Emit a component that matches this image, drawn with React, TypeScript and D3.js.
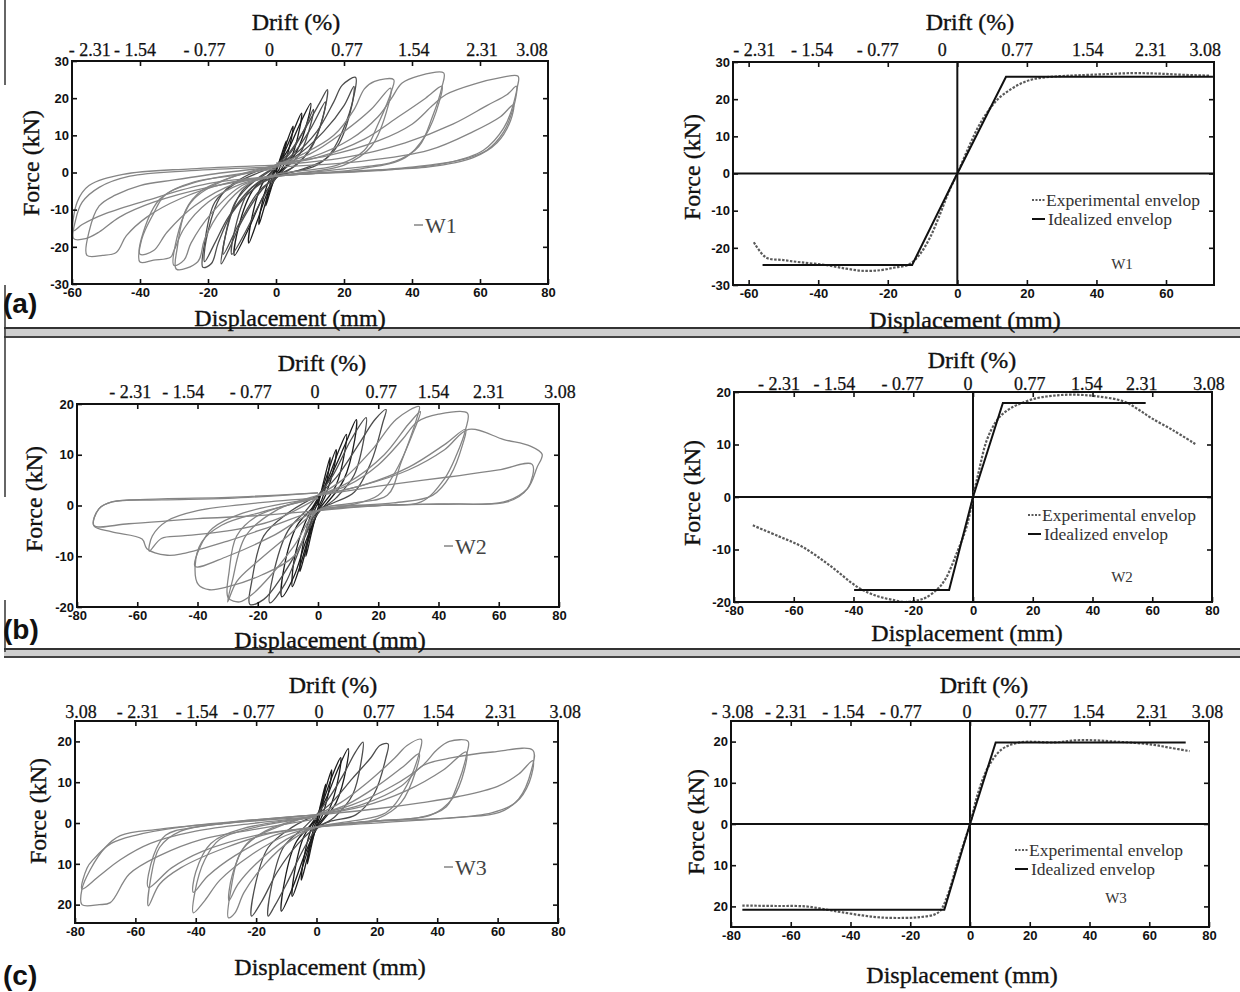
import React, { useEffect, useRef } from 'react';
import * as d3 from 'd3';

type Pt = [number, number];

// ---------- hysteresis loops: [displacement mm, force kN], one array per cycle ----------
const w1Cycles: Pt[][] = [
  [[0,0],[1.5,4.5],[3,8.5],[2.6,6],[1,1],[0,-0.5],[-1.5,-4.5],[-3,-9],[-2.6,-6.5],[-1,-1],[0,0.5]],
  [[0,0.5],[2.5,6.5],[5,12.5],[4.5,9],[2,1.5],[0,-1],[-2.5,-6.5],[-5,-14],[-4.5,-10],[-2,-2],[0,1]],
  [[0,1],[3,6.5],[5.5,12],[7.5,16],[7,12],[4,3],[0,-1],[-3,-6.5],[-5.5,-13],[-8,-19],[-7.5,-14],[-4,-3],[0,1]],
  [[0,1.5],[3.5,6],[7,13],[10.2,18.6],[9.6,15],[6,5.5],[2,0.5],[0,-1.5],[-3.5,-6],[-8,-15],[-12.2,-22.3],[-11.6,-17],[-7,-5],[-2,-0.5],[0,1.5]],
  [[0,1.5],[4,5],[8,11],[11,17],[10.5,14],[7,5],[2,0.5],[0,-1.5],[-4,-7],[-9,-16],[-13,-22],[-12.5,-17],[-8,-5],[-2,-0.5],[0,1.5]],
  [[0,2],[4,5.5],[9,12.5],[13,19],[15.1,22.3],[14.6,18],[11,8],[6,2],[0,-1],[-4,-4.5],[-10,-13],[-14,-21],[-16.1,-24.6],[-15.5,-20],[-12,-8],[-6,-2],[0,1.5]],
  [[0,1.5],[5,5],[10,11.5],[14.5,19],[14,15.5],[10,6],[5,1.5],[0,-1.5],[-5,-5],[-11,-14],[-15.5,-22],[-15,-17.5],[-10,-5],[-4,-1],[0,1.5]],
  [[0,2],[5,4.5],[12,11],[17,19],[19.5,23.5],[23.4,25.6],[23,21],[19.5,11],[15,4],[8,1],[0,-1],[-6,-4],[-13,-11],[-17,-19],[-19,-24.5],[-21.5,-25.5],[-21,-19],[-18,-8],[-12,-3],[-5,0],[0,2]],
  [[0,2],[6,4.5],[14,11],[20,18],[22.9,23.2],[22.3,18],[18,7],[12,2],[0,-1],[-7,-4],[-14,-12],[-18,-19],[-21,-24],[-20.5,-18],[-16,-6],[-9,-1],[0,2]],
  [[0,2],[8,5],[17,10],[23,17],[26,22.5],[29,24.5],[34.6,25],[34,22],[30,13],[26,6],[18,2],[0,-0.5],[-8,-3],[-16,-10],[-21,-18],[-23,-24],[-29.3,-26],[-29,-20],[-26.5,-10],[-22,-5],[-12,-1],[0,1.5]],
  [[0,2],[10,5],[20,11],[28,17],[33.7,22.7],[33,18],[28,7],[20,2],[0,-1],[-10,-3.5],[-19,-11],[-25,-19],[-27,-23.5],[-30,-25],[-29.5,-19],[-25,-8],[-15,-2],[0,2]],
  [[0,2],[10,4],[22,9],[30,15],[34,20],[37,24],[42,26],[49.3,26.8],[48.8,23],[46,15],[42,7],[35,3],[20,1],[0,-1],[-10,-3],[-20,-8],[-27,-15],[-30,-21],[-31,-22.8],[-36,-23.6],[-40,-24.1],[-39.5,-18],[-36,-11],[-32.7,-6.1],[-24,-2.5],[-10,-0.5],[0,1.5]],
  [[0,2],[12,4],[26,9],[36,15],[44,20],[48.8,23.2],[48,19],[44,10],[38,4],[25,1],[0,-1],[-12,-3],[-24,-9],[-32,-16],[-36,-21],[-40,-22],[-39,-16],[-34,-7],[-25,-3],[0,1]],
  [[0,2.5],[15,4.5],[30,8.5],[40,13],[46,18],[50,21],[59,24],[65,25.3],[71.2,25.9],[71,23],[70,18],[67,11],[62,6],[55,3.5],[45,2],[30,0.7],[0,-1],[-15,-3],[-28,-7],[-38,-12],[-44,-17],[-47,-21.5],[-51,-22.3],[-55.6,-22.3],[-55,-16],[-52,-9],[-47.3,-6.1],[-40,-3.5],[-30,-2],[-15,0],[0,1.5]],
  [[0,2],[20,4],[38,8],[52,13],[62,18],[68,21],[70.7,23.2],[70,19],[67,12],[61,6],[50,2.5],[30,0.5],[0,-1],[-20,-4],[-36,-8],[-46,-12],[-52,-16],[-56,-17.8],[-59.5,-17.8],[-59,-13],[-57,-8],[-52,-4],[-43,-1],[-25,0.5],[0,1.5]],
  [[0,1.5],[25,3],[45,6],[58,11],[66,15],[69.8,18.2],[69,14],[65,8],[58,4],[45,1.5],[25,0.5],[0,-1],[-20,-3],[-38,-7.5],[-50,-11],[-57,-14],[-59.5,-15.6],[-58.5,-8],[-55,-3.5],[-45,-0.5],[-25,1],[0,2]],
];

const w2Cycles: Pt[][] = [
  [[0,0],[2,5],[4,9.5],[3.6,7],[1.5,1.5],[0,-0.5],[-2,-5],[-4,-10],[-3.6,-7.5],[-1.5,-1.5],[0,0.5]],
  [[0,0.5],[3,6],[6,11],[5.5,8],[2.5,2],[0,-1],[-3,-6.5],[-6,-13],[-5.5,-9.5],[-2.5,-2],[0,1]],
  [[0,1],[3.5,5.5],[7,11],[9.4,14],[9,11],[6,4],[2,0.5],[0,-1],[-3,-6],[-6,-12],[-8.5,-16],[-8,-11],[-4,-3],[0,1]],
  [[0,1.5],[4,5.5],[9,12],[12.7,16.9],[12.2,13],[8.5,5],[3,0.5],[0,-1.5],[-4,-7],[-8,-14],[-12,-18],[-11.5,-13],[-7,-4],[-2,-0.5],[0,1.5]],
  [[0,2],[5,6],[11,13],[16,17.3],[15.5,14],[12,6],[6,1.5],[0,-1.5],[-5,-7],[-11,-15.5],[-16,-19.2],[-15,-14],[-10,-5],[-4,-1],[0,2]],
  [[0,2],[6,5.5],[14,12.5],[19,17],[22.6,18.9],[21.5,16.3],[17.6,8.5],[12,2.6],[5,0.5],[0,-1],[-6,-8],[-12,-14],[-18,-18.5],[-22.6,-19.5],[-22,-15],[-18,-6],[-10,-1.5],[0,2]],
  [[0,2],[8,5],[18,11],[26,17],[33.6,19.5],[33,17.6],[27.6,8.5],[23,2],[12,0.5],[0,-1],[-8,-8],[-16,-14],[-22,-17.6],[-26,-19],[-29.8,-18.2],[-29.5,-13],[-27,-6],[-20,-2],[0,1.5]],
  [[0,2],[10,4.5],[22,10],[30,16],[34,18.5],[32,15],[26,7],[20,2],[10,0],[0,-1],[-10,-6],[-20,-11],[-27,-15],[-30,-19],[-28.5,-15],[-24,-6],[-14,-1],[0,2]],
  [[0,2],[10,4],[20,8],[28,13],[33,16.5],[40,18],[49.6,18.2],[49,15],[46,10],[41.9,5.2],[34.2,0.7],[20,0],[0,-1],[-7.7,-9.8],[-18.7,-13.7],[-29.8,-16],[-36,-16.6],[-39.7,-15.6],[-40.8,-12],[-38.6,-7.2],[-32,-3.9],[-18.7,-1.3],[0,1.5]],
  [[0,2],[15,4],[30,7.5],[42,12],[49,15],[48,12],[44,6],[38,2],[25,0.5],[0,-1],[-15,-6],[-30,-10],[-40.8,-12],[-39,-8],[-35,-4.5],[-25,-1.5],[0,1.5]],
  [[0,2],[15,4],[30,7],[42,11],[50,15],[61.7,13],[70.5,11.7],[74.4,10.1],[72.7,7.5],[69.5,3.3],[61.7,0.7],[40,0.3],[20,0],[0,-1],[-15,-4],[-30,-7],[-45,-9.5],[-50,-9.8],[-56.8,-8.5],[-58.4,-6.6],[-68.4,-5.2],[-74.4,-4],[-72.8,-0.7],[-68.4,0.7],[-51.8,1.3],[-29.8,1.6],[0,2.5]],
  [[0,2],[20,3.8],[35,5],[47,5.9],[60,7],[71.1,8.1],[69.5,3.3],[62.8,0.7],[45,0.3],[20,0],[0,-1],[-20,-2],[-40,-2.6],[-62.8,-3.6],[-74.4,-3.9],[-72.8,-0.7],[-68.4,0.7],[-51.8,1.1],[-29.8,1.4],[0,2.5]],
  [[0,1.5],[-15,-3],[-30,-5],[-45,-6],[-52,-6.5],[-56,-9],[-55,-6],[-50,-3],[-40,-1],[-20,0.5],[0,1.5]],
];

const w3Cycles: Pt[][] = [
  [[0,0],[1.5,5],[3,9.5],[2.6,7],[1,1.5],[0,-0.5],[-1.5,-5],[-3,-10],[-2.6,-7],[-1,-1.5],[0,0.5]],
  [[0,0.5],[2.5,7],[5,13],[4.5,9.5],[2,2],[0,-1],[-2.5,-7],[-5,-14],[-4.5,-10],[-2,-2],[0,1]],
  [[0,1],[3,7],[6,13],[8,16],[7.5,12],[4,3],[0,-1],[-3,-7],[-6,-14],[-8,-18],[-7.5,-13],[-4,-3],[0,1]],
  [[0,1.5],[3.5,6.5],[7,13],[10.5,18.2],[10,14],[6.5,5],[2,0.5],[0,-1.5],[-3.5,-7],[-8,-16],[-11.6,-21.6],[-11,-16],[-7,-5],[-2,-0.5],[0,1.5]],
  [[0,2],[4,6],[9,12],[13,17.5],[15.4,19.8],[15,16],[12,7],[6,1.5],[0,-1.5],[-4,-6],[-10,-15],[-14,-20.5],[-16,-22.8],[-15.3,-17],[-11,-6],[-4,-1],[0,2]],
  [[0,2],[5,5],[12,11],[18,16],[21,19],[23.7,19.4],[23,16],[19,7],[13,2],[5,0.5],[0,-1],[-6,-5],[-13,-12],[-18,-19],[-21.5,-22.8],[-20.8,-17],[-16,-6],[-8,-1],[0,2]],
  [[0,2],[8,5],[17,10],[26,16],[30,19],[34.7,20.5],[34,17],[29,8],[23,2.5],[12,0.5],[0,-1],[-8,-4],[-17,-10],[-24,-17],[-27,-22],[-29.2,-23.2],[-28.5,-17],[-25,-7],[-17,-2],[0,2]],
  [[0,2],[10,4.5],[20,9],[29,14],[34,17],[33,13],[28,5],[20,1],[0,-1],[-10,-4],[-20,-10],[-26,-15],[-29,-19],[-28,-13],[-23,-5],[-13,-1],[0,2]],
  [[0,2],[12,4.5],[25,9],[35,14],[40,18],[44,20],[50.2,20],[49.8,17],[47,10],[43,4],[35,1.5],[20,0.5],[0,-1],[-10,-3],[-22,-8],[-32,-14],[-37,-19],[-40.8,-22],[-40.3,-17],[-37,-9],[-32,-4],[-20,-1],[0,1.5]],
  [[0,2],[15,4],[30,8],[42,13],[49.6,17.4],[49,13],[45,6],[38,2],[20,0.5],[0,-1],[-14,-3],[-27,-8],[-36,-13],[-40.8,-17],[-40,-12],[-35,-5],[-25,-1.5],[0,1.5]],
  [[0,2],[15,4.5],[28,9],[35.3,14.1],[45,16],[58.4,17.4],[71.7,17.8],[71.2,13],[67,5.9],[60.6,2.6],[47.4,1.4],[14.3,0.2],[0,-1],[-15,-2.5],[-30,-6],[-45,-11],[-52,-15],[-55.7,-20.3],[-55,-14],[-52,-6],[-45,-2],[-30,0],[0,2]],
  [[0,2],[20,3.5],[35,5],[47,6.5],[60,9],[67,12],[71.7,15.3],[70.5,10],[66,5],[58,2.5],[40,1],[0,-1],[-20,-3],[-38,-7],[-48,-11],[-55.7,-15.8],[-54,-8],[-50,-3],[-40,-1],[0,1.5]],
  [[0,1],[-20,-1.5],[-38,-4],[-52,-8],[-62,-12.5],[-68.3,-19.5],[-72,-20],[-77.7,-20],[-77.7,-16.2],[-75,-11.5],[-70,-6],[-65,-3.1],[-51.8,-1.5],[-30,0],[0,2]],
  [[0,1.5],[-20,0],[-40,-2],[-55,-5],[-65,-9],[-72,-13],[-77.7,-16.2],[-76,-11],[-73.9,-8.9],[-68,-5],[-60,-3],[-45,-1],[0,2]],
];

// ---------- envelopes ----------
const w1Experimental: Pt[] = [[-58.5,-18.5],[-55,-22.6],[-50,-23.3],[-45,-23.9],[-38,-24.6],[-32,-25.6],[-27,-26.2],[-22,-26],[-18,-25.3],[-14,-24.5],[-11,-22],[-8,-17.5],[-5,-11],[-2.5,-5],[0,0],[3,6.5],[6,12.5],[9,17],[12,20.3],[15.6,22.8],[19,24.5],[22.4,25.5],[28,26.1],[34,26.4],[42,26.7],[50,27],[57,26.9],[64,26.6],[72.8,26.3]];
const w1Idealized: Pt[] = [[-56,-24.6],[-13,-24.6],[0,0],[14,26],[73.5,26]];

const w2Experimental: Pt[] = [[-73.7,-5.4],[-65,-7.5],[-57.1,-9.5],[-47.8,-13.1],[-38.5,-17.2],[-31.9,-18.9],[-26,-19.7],[-22.6,-20],[-18,-19.6],[-15.9,-19.2],[-12,-17.6],[-9.3,-15.7],[-5.3,-10.5],[-2,-5.4],[0,0],[2,5],[4.6,10.8],[8,14.6],[11,16.3],[14.6,17.5],[21.2,18.8],[27,19.3],[33.2,19.5],[41.2,19.2],[50.5,18.2],[55,16.8],[59.8,15],[67,12.7],[74.4,10.1]];
const w2Idealized: Pt[] = [[-39.8,-17.7],[-8,-17.7],[0,0],[10,17.9],[57.8,17.9]];

const w3Experimental: Pt[] = [[-76.2,-19.8],[-65,-19.9],[-55,-20],[-48,-20.8],[-43,-21.4],[-36,-22.2],[-29.8,-22.7],[-22,-22.8],[-16.6,-22.6],[-12,-22],[-9.9,-21],[-7.3,-16.9],[-4,-8.9],[0,0],[2.6,7.3],[6,13.7],[10.6,18.1],[16.6,19.8],[28.5,19.8],[35.1,20.3],[42,20.3],[48.3,20],[55,19.7],[61.6,19.2],[67,18.5],[73.5,17.7]];
const w3Idealized: Pt[] = [[-76.2,-20.8],[-8.6,-20.8],[0,0],[8.6,19.8],[72.2,19.8]];

// ---------- ticks ----------
const xTicks60to80 = [-60, -40, -20, 0, 20, 40, 60, 80];
const xTicks60to60 = [-60, -40, -20, 0, 20, 40, 60];
const xTicks80 = [-80, -60, -40, -20, 0, 20, 40, 60, 80];
const yTicks30 = [-30, -20, -10, 0, 10, 20, 30];
const yTicks20 = [-20, -10, 0, 10, 20];

const driftLabels = ['- 2.31', '- 1.54', '- 0.77', '0', '0.77', '1.54', '2.31', '3.08'];
const driftLabelsW3Left = ['3.08', '- 2.31', '- 1.54', '- 0.77', '0', '0.77', '1.54', '2.31', '3.08'];
const driftLabelsW3Right = ['- 3.08', '- 2.31', '- 1.54', '- 0.77', '0', '0.77', '1.54', '2.31', '3.08'];
// where each drift label sits, in mm on the displacement axis
const driftAtW1Left = [-54.8, -41.5, -21, -1.9, 20.9, 40.5, 60.6, 75.3];
const driftAtW1Right = [-58.4, -41.8, -22.9, -4.3, 17.2, 37.5, 55.6, 71.3];
const driftAtW2Left = [-62.3, -44.7, -22.3, -1, 21, 38.3, 56.7, 80.3];
const driftAtW2Right = [-64.9, -46.4, -23.6, -1.7, 19, 38.1, 56.5, 79];
const driftAtW3Left = [-78, -59.2, -39.7, -20.8, 0.8, 20.7, 40.3, 61, 82.4];
const driftAtW3Right = [-79.5, -61.6, -42.4, -23.2, -1, 20.5, 39.7, 60.9, 79.5];

const SERIF = '"Liberation Serif", "Times New Roman", serif';
const SANS = '"Liberation Sans", Arial, sans-serif';

const panels = [
  { kind: 'loops', name: 'W1', cycles: w1Cycles, x0: 72, x1: 548, y0: 61, y1: 284, xDomain: [-60, 80], yDomain: [-30, 30],
    xTicks: xTicks60to80, yTicks: yTicks30, absY: false, drift: driftLabels, driftAt: driftAtW1Left, driftY: 50,
    driftTitle: [296, 22], xTitle: [290, 318], yTitle: [31, 163], legend: [414, 225] },
  { kind: 'env', name: 'W1', exp: w1Experimental, ideal: w1Idealized, x0: 733, x1: 1214, y0: 62, y1: 285, xDomain: [-64.5, 73.8], yDomain: [-30, 30],
    xTicks: xTicks60to60, yTicks: yTicks30, absY: false, drift: driftLabels, driftAt: driftAtW1Right, driftY: 50,
    driftTitle: [970, 22], xTitle: [965, 320], yTitle: [692, 167], legend: [1032, 200], tag: [1122, 264] },
  { kind: 'loops', name: 'W2', cycles: w2Cycles, x0: 77, x1: 559, y0: 404, y1: 607, xDomain: [-80, 80], yDomain: [-20, 20],
    xTicks: xTicks80, yTicks: yTicks20, absY: false, drift: driftLabels, driftAt: driftAtW2Left, driftY: 392,
    driftTitle: [322, 363], xTitle: [330, 640], yTitle: [34, 499], legend: [444, 546] },
  { kind: 'env', name: 'W2', exp: w2Experimental, ideal: w2Idealized, x0: 734, x1: 1212, y0: 392, y1: 602, xDomain: [-80, 80], yDomain: [-20, 20],
    xTicks: xTicks80, yTicks: yTicks20, absY: false, drift: driftLabels, driftAt: driftAtW2Right, driftY: 384,
    driftTitle: [972, 360], xTitle: [967, 633], yTitle: [692, 493], legend: [1028, 515], tag: [1122, 577] },
  { kind: 'loops', name: 'W3', cycles: w3Cycles, x0: 75, x1: 558, y0: 721, y1: 923, xDomain: [-80, 80], yDomain: [-24.5, 25],
    xTicks: xTicks80, yTicks: yTicks20, absY: true, drift: driftLabelsW3Left, driftAt: driftAtW3Left, driftY: 712,
    driftTitle: [333, 685], xTitle: [330, 967], yTitle: [38, 811], legend: [444, 867] },
  { kind: 'env', name: 'W3', exp: w3Experimental, ideal: w3Idealized, x0: 731, x1: 1209, y0: 721, y1: 927, xDomain: [-80, 80], yDomain: [-25, 25],
    xTicks: xTicks80, yTicks: yTicks20, absY: true, drift: driftLabelsW3Right, driftAt: driftAtW3Right, driftY: 712,
    driftTitle: [984, 685], xTitle: [962, 975], yTitle: [696, 822], legend: [1015, 850], tag: [1116, 898] },
];

function drawPanel(svg: any, p: any) {
  const x = d3.scaleLinear().domain(p.xDomain).range([p.x0, p.x1]);
  const y = d3.scaleLinear().domain(p.yDomain).range([p.y1, p.y0]);
  const g = svg.append('g');

  const smooth = d3.line<Pt>().x(d => x(d[0])).y(d => y(d[1])).curve(d3.curveCatmullRom.alpha(0.5));
  const straight = d3.line<Pt>().x(d => x(d[0])).y(d => y(d[1]));

  if (p.kind === 'loops') {
    p.cycles.forEach((c: Pt[]) => {
      const amp = d3.max(c, d => Math.abs(d[0])) as number;
      g.append('path')
        .attr('d', smooth(c))
        .attr('fill', 'none')
        .attr('stroke', amp < 13 ? '#1c1c1c' : amp < 30 ? '#4d4d4d' : '#858585')
        .attr('stroke-width', 1.3);
    });
  } else {
    // zero lines
    g.append('line').attr('x1', p.x0).attr('x2', p.x1).attr('y1', y(0)).attr('y2', y(0))
      .attr('stroke', '#111').attr('stroke-width', 2);
    g.append('line').attr('x1', x(0)).attr('x2', x(0)).attr('y1', p.y0).attr('y2', p.y1)
      .attr('stroke', '#111').attr('stroke-width', 2);
    g.append('path').attr('d', smooth(p.exp)).attr('fill', 'none')
      .attr('stroke', '#5a5a5a').attr('stroke-width', 2.2).attr('stroke-dasharray', '2.5,1.5');
    g.append('path').attr('d', straight(p.ideal)).attr('fill', 'none')
      .attr('stroke', '#111').attr('stroke-width', 2);
  }

  // frame
  g.append('rect').attr('x', p.x0).attr('y', p.y0).attr('width', p.x1 - p.x0).attr('height', p.y1 - p.y0)
    .attr('fill', 'none').attr('stroke', '#111').attr('stroke-width', 2);

  const fmtY = (d: any) => (p.absY ? String(Math.abs(d)) : String(d));
  const styleTicks = (ax: any) => {
    ax.select('.domain').remove();
    ax.selectAll('line').attr('stroke', '#111').attr('stroke-width', 1.6);
    ax.selectAll('text').attr('font-family', SANS).attr('font-weight', 'bold').attr('font-size', 13).attr('fill', '#111');
  };

  g.append('g').attr('transform', `translate(0,${p.y1})`)
    .call(d3.axisBottom(x).tickValues(p.xTicks).tickSize(-5).tickPadding(4).tickFormat((d: any) => String(d)))
    .call(styleTicks);
  g.append('g').attr('transform', `translate(0,${p.y0})`)
    .call(d3.axisTop(x).tickValues(p.xTicks.filter((t: number) => t > p.xDomain[0] && t < p.xDomain[1])).tickSize(-5).tickFormat(() => ''))
    .call(styleTicks);
  g.append('g').attr('transform', `translate(${p.x0},0)`)
    .call(d3.axisLeft(y).tickValues(p.yTicks).tickSize(-5).tickPadding(3).tickFormat(fmtY))
    .call(styleTicks);
  g.append('g').attr('transform', `translate(${p.x1},0)`)
    .call(d3.axisRight(y).tickValues(p.yTicks.filter((t: number) => t > p.yDomain[0] && t < p.yDomain[1])).tickSize(-5).tickFormat(() => ''))
    .call(styleTicks);

  // drift labels on top
  g.selectAll('.drift')
    .data(p.drift.map((t: string, i: number) => ({ t, at: p.driftAt[i] })))
    .enter().append('text')
    .attr('x', (d: any) => x(d.at)).attr('y', p.driftY)
    .attr('text-anchor', 'middle').attr('dominant-baseline', 'central')
    .attr('font-family', SERIF).attr('font-size', 18).attr('fill', '#111')
    .attr('stroke', '#111').attr('stroke-width', 0.25)
    .text((d: any) => d.t);

  const title = (tx: number, ty: number, txt: string, rot = false) =>
    g.append('text')
      .attr('transform', rot ? `translate(${tx},${ty}) rotate(-90)` : `translate(${tx},${ty})`)
      .attr('text-anchor', 'middle').attr('dominant-baseline', 'central')
      .attr('font-family', SERIF).attr('font-size', 24).attr('fill', '#111')
      .attr('stroke', '#111').attr('stroke-width', 0.35)
      .text(txt);
  title(p.driftTitle[0], p.driftTitle[1], 'Drift (%)');
  title(p.xTitle[0], p.xTitle[1], 'Displacement (mm)');
  title(p.yTitle[0], p.yTitle[1], 'Force (kN)', true);

  if (p.kind === 'loops') {
    const [lx, ly] = p.legend;
    g.append('line').attr('x1', lx).attr('x2', lx + 9).attr('y1', ly).attr('y2', ly)
      .attr('stroke', '#858585').attr('stroke-width', 1.5);
    g.append('text').attr('x', lx + 11).attr('y', ly).attr('dominant-baseline', 'central')
      .attr('font-family', SERIF).attr('font-size', 22).attr('fill', '#444').text(p.name);
  } else {
    const [lx, ly] = p.legend;
    g.append('line').attr('x1', lx).attr('x2', lx + 13).attr('y1', ly).attr('y2', ly)
      .attr('stroke', '#5a5a5a').attr('stroke-width', 1.8).attr('stroke-dasharray', '2,1.5');
    g.append('text').attr('x', lx + 14).attr('y', ly).attr('dominant-baseline', 'central')
      .attr('font-family', SERIF).attr('font-size', 17.5).attr('fill', '#333').text('Experimental envelop');
    g.append('line').attr('x1', lx).attr('x2', lx + 13).attr('y1', ly + 19).attr('y2', ly + 19)
      .attr('stroke', '#111').attr('stroke-width', 2);
    g.append('text').attr('x', lx + 16).attr('y', ly + 19).attr('dominant-baseline', 'central')
      .attr('font-family', SERIF).attr('font-size', 17.5).attr('fill', '#333').text('Idealized envelop');
    g.append('text').attr('x', p.tag[0]).attr('y', p.tag[1])
      .attr('text-anchor', 'middle').attr('dominant-baseline', 'central')
      .attr('font-family', SERIF).attr('font-size', 15).attr('fill', '#333').text(p.name);
  }
}

export default function App() {
  const ref = useRef<SVGSVGElement>(null);

  useEffect(() => {
    const svg = d3.select(ref.current);
    svg.selectAll('*').remove();

    svg.append('rect').attr('width', 1240).attr('height', 992).attr('fill', '#fff');

    // double rules between the rows
    [[328, 337], [649, 657]].forEach(([a, b]) => {
      svg.append('rect').attr('x', 4).attr('y', a).attr('width', 1236).attr('height', b - a).attr('fill', '#cfcfcf');
      svg.append('line').attr('x1', 4).attr('x2', 1240).attr('y1', a).attr('y2', a).attr('stroke', '#333').attr('stroke-width', 2);
      svg.append('line').attr('x1', 4).attr('x2', 1240).attr('y1', b).attr('y2', b).attr('stroke', '#444').attr('stroke-width', 2);
    });
    // left edge rule pieces
    [[0, 85], [285, 497], [600, 652]].forEach(([a, b]) => {
      svg.append('line').attr('x1', 5).attr('x2', 5).attr('y1', a).attr('y2', b).attr('stroke', '#333').attr('stroke-width', 1.5);
    });

    panels.forEach(p => drawPanel(svg, p));

    // panel letters
    [['(a)', 313], ['(b)', 639], ['(c)', 985]].forEach(([t, yy]) => {
      svg.append('text').attr('x', 3).attr('y', yy as number)
        .attr('font-family', SANS).attr('font-weight', 'bold').attr('font-size', 28).attr('fill', '#111')
        .text(t as string);
    });
  }, []);

  return <svg ref={ref} width={1240} height={992} style={{ position: 'absolute', left: 0, top: 0 }} />;
}
